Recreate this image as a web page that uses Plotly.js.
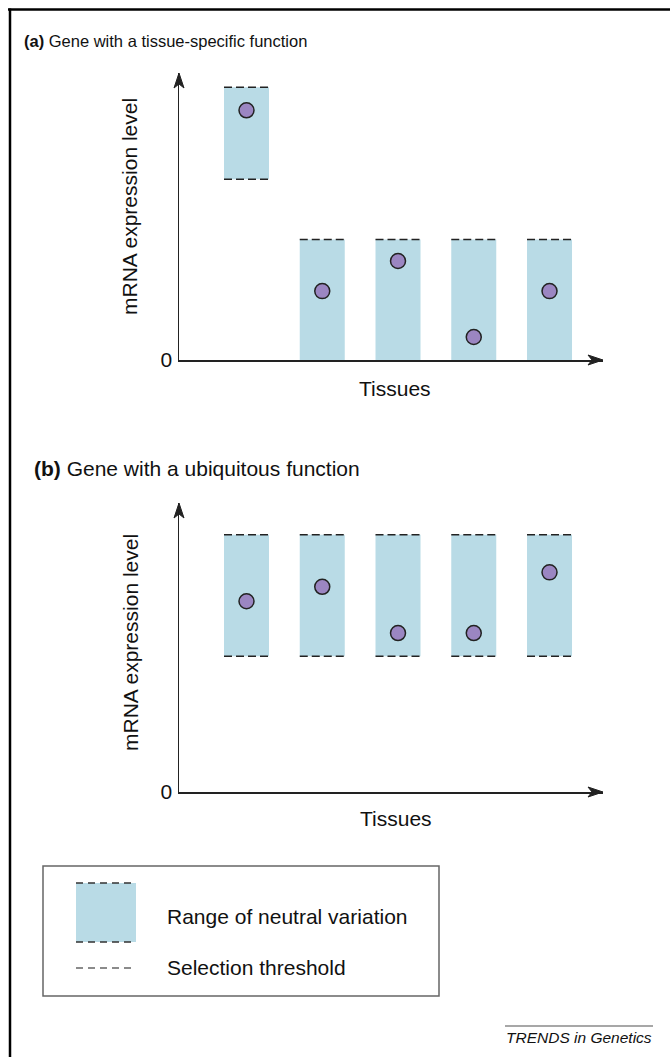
<!DOCTYPE html>
<html>
<head>
<meta charset="utf-8">
<script src="https://cdn.plot.ly/plotly-3.0.1.min.js"></script>
<style>
  html, body { margin: 0; padding: 0; background: #ffffff; }
  #chart { width: 670px; height: 1057px; }
</style>
</head>
<body>
<div id="chart"></div>
<script>
// ---------------- data ----------------
const tissues = [1, 2, 3, 4, 5];

// (a) gene with a tissue-specific function
const aLow  = [63, 0, 0, 0, 0];
const aHigh = [95, 42, 42, 42, 42];
const aExpr = [87, 24, 34.5, 8, 24];

// (b) gene with a ubiquitous function
const bLow  = [47, 47, 47, 47, 47];
const bHigh = [89, 89, 89, 89, 89];
const bExpr = [66, 71, 55, 55, 76];

const panelTitles = ['Gene with a tissue-specific function', 'Gene with a ubiquitous function'];
const yLabel = 'mRNA expression level';
const xLabel = 'Tissues';
const legendLabels = ['Range of neutral variation', 'Selection threshold'];

// ---------------- styling ----------------
const W = 670, H = 1057;
const px = x => x / W;
const py = y => 1 - y / H;
const FONT = 'Arial, "Liberation Sans", Helvetica, sans-serif';
const BAR = '#b9dbe6';
const DOT = '#9b86c2';
const INK = '#222222';
const barW = 0.594;

function thresholdLine(xs, ys, skipZero) {
  const X = [], Y = [];
  xs.forEach((c, i) => {
    if (skipZero && ys[i] === 0) return;
    X.push(c - barW / 2, c + barW / 2, null);
    Y.push(ys[i], ys[i], null);
  });
  return {X, Y};
}

function panelTraces(low, high, expr, xa, ya) {
  const top = thresholdLine(tissues, high, false);
  const bot = thresholdLine(tissues, low, true);
  return [
    {type: 'bar', x: tissues, base: low, y: high.map((h, i) => h - low[i]),
     width: barW, marker: {color: BAR, line: {width: 0}}, xaxis: xa, yaxis: ya,
     hoverinfo: 'skip', showlegend: false},
    {type: 'scatter', mode: 'lines', x: top.X, y: top.Y, xaxis: xa, yaxis: ya,
     line: {color: INK, width: 1.5, dash: '8px,4px'}, hoverinfo: 'skip', showlegend: false, cliponaxis: false},
    {type: 'scatter', mode: 'lines', x: bot.X, y: bot.Y, xaxis: xa, yaxis: ya,
     line: {color: INK, width: 1.5, dash: '8px,4px'}, hoverinfo: 'skip', showlegend: false, cliponaxis: false},
    {type: 'scatter', mode: 'markers', x: tissues, y: expr, xaxis: xa, yaxis: ya,
     marker: {size: 15, color: DOT, line: {color: INK, width: 1.5}},
     hoverinfo: 'skip', showlegend: false, cliponaxis: false}
  ];
}

const data = [].concat(
  panelTraces(aLow, aHigh, aExpr, 'x', 'y'),
  panelTraces(bLow, bHigh, bExpr, 'x2', 'y2')
);

const xRange = [0.109, 5.706];
const xDom = [px(179), px(603)];
function xax(anchor) {
  return {domain: xDom, range: xRange, anchor: anchor, showgrid: false, zeroline: false,
          showline: true, linecolor: INK, linewidth: 1.5, showticklabels: false, ticks: '', fixedrange: true};
}
function yax(dom, anchor) {
  return {domain: dom, range: [0, 100], anchor: anchor, showgrid: false, zeroline: false,
          showline: true, linecolor: INK, linewidth: 1.5, ticks: '',
          tickvals: [0], ticktext: ['0'], ticklabelstandoff: 1,
          tickfont: {family: FONT, size: 21, color: '#111'}, fixedrange: true};
}

// arrowheads (pixel geometry -> paper)
function arrowRight(x, y) {
  return {type: 'path', xref: 'paper', yref: 'paper', fillcolor: INK, line: {color: INK, width: 1},
    path: `M${px(x)},${py(y)} L${px(x - 15)},${py(y - 5)} L${px(x - 11)},${py(y)} L${px(x - 15)},${py(y + 5)} Z`};
}
function arrowUp(x, y) {
  return {type: 'path', xref: 'paper', yref: 'paper', fillcolor: INK, line: {color: INK, width: 1},
    path: `M${px(x)},${py(y)} L${px(x - 5)},${py(y + 15)} L${px(x)},${py(y + 11)} L${px(x + 5)},${py(y + 15)} Z`};
}
function seg(x0, y0, x1, y1, color, width, dash) {
  return {type: 'line', xref: 'paper', yref: 'paper', x0: px(x0), y0: py(y0), x1: px(x1), y1: py(y1),
    line: {color: color, width: width, dash: dash || 'solid'}};
}

const shapes = [
  // outer frame (top and left)
  seg(8, 9.5, 670, 9.5, '#000', 2.5),
  seg(10, 8.5, 10, 1057, '#000', 2.5),
  arrowRight(603, 360), arrowUp(179, 73),
  arrowRight(603, 792), arrowUp(179, 503),
  // legend box
  {type: 'rect', xref: 'paper', yref: 'paper', x0: px(43), x1: px(439), y0: py(866), y1: py(996),
   line: {color: '#666', width: 1.5}, fillcolor: 'rgba(0,0,0,0)'},
  {type: 'rect', xref: 'paper', yref: 'paper', x0: px(76), x1: px(136), y0: py(883), y1: py(942),
   line: {width: 0}, fillcolor: BAR},
  seg(76, 883, 136, 883, '#333', 1.5, '7px,5px'),
  seg(76, 942, 136, 942, '#333', 1.5, '7px,5px'),
  seg(76, 968, 136, 968, '#666', 1.5, '7px,5px'),
  // footer overline
  seg(505, 1026, 653, 1026, '#8a8a8a', 1.5)
];

function txt(text, x, y, size, opts) {
  return Object.assign({xref: 'paper', yref: 'paper', x: px(x), y: py(y), text: text, showarrow: false,
    xanchor: 'left', yanchor: 'middle', font: {family: FONT, size: size, color: '#111'}}, opts || {});
}

const annotations = [
  txt('<b>(a)</b> ' + panelTitles[0], 22, 41, 16.5),
  txt('<b>(b)</b> ' + panelTitles[1], 32, 468, 21),
  txt(yLabel, 130, 207, 21, {xanchor: 'center', textangle: -90}),
  txt(yLabel, 130, 643, 21, {xanchor: 'center', textangle: -90}),
  txt(xLabel, 395, 388, 21, {xanchor: 'center'}),
  txt(xLabel, 396, 818, 21, {xanchor: 'center'}),
  txt(legendLabels[0], 165, 916, 21),
  txt(legendLabels[1], 165, 967, 21),
  txt('<i>TRENDS in Genetics</i>', 654, 1037, 15.5, {xanchor: 'right'})
];

const layout = {
  width: W, height: H,
  margin: {l: 0, r: 0, t: 0, b: 0},
  paper_bgcolor: '#ffffff', plot_bgcolor: '#ffffff',
  showlegend: false, barmode: 'overlay',
  xaxis: xax('y'), yaxis: yax([py(360), py(73)], 'x'),
  xaxis2: xax('y2'), yaxis2: yax([py(792), py(503)], 'x2'),
  shapes: shapes, annotations: annotations,
  font: {family: FONT}
};

Plotly.newPlot('chart', data, layout, {displayModeBar: false, staticPlot: true});
</script>
</body>
</html>
